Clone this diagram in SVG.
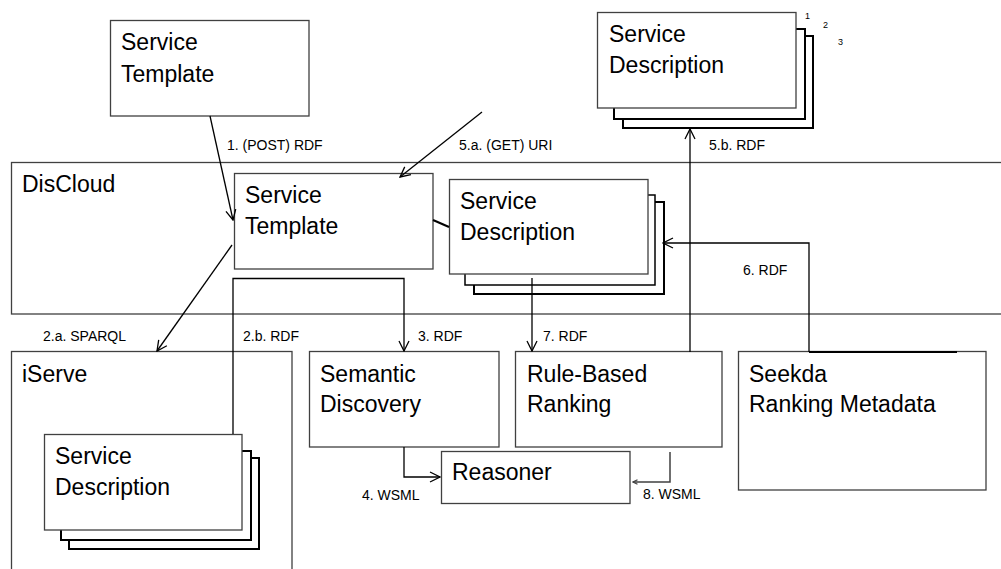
<svg xmlns="http://www.w3.org/2000/svg" width="1001" height="569" viewBox="0 0 1001 569">
<style>
.box{fill:#fff;stroke:#404040;stroke-width:1.3}
.sheet{fill:#fff;stroke:#000;stroke-width:2}
.cont{fill:none;stroke:#404040;stroke-width:1.3}
.big{font-family:"Liberation Sans",Arial,sans-serif;font-size:23px;fill:#000}
.lbl{font-family:"Liberation Sans",Arial,sans-serif;font-size:14px;fill:#000}
.num{font-family:"Liberation Sans",Arial,sans-serif;font-size:9px;fill:#000}
.c{fill:none;stroke:#000;stroke-width:1.3}
</style>
<defs>
<marker id="ah" viewBox="0 0 12 12" refX="11" refY="6" markerWidth="12" markerHeight="12" markerUnits="userSpaceOnUse" orient="auto">
<polyline points="1,1 11,6 1,11" fill="none" stroke="#000" stroke-width="1.3"/>
</marker>
<marker id="ahs" viewBox="0 0 8 8" refX="7" refY="4" markerWidth="6" markerHeight="6" markerUnits="userSpaceOnUse" orient="auto">
<polyline points="1,1 7,4 1,7" fill="none" stroke="#404040" stroke-width="1.5"/>
</marker>
</defs>
<rect width="1001" height="569" fill="#fff"/>
<g id="discloud">
<rect class="cont" x="11.5" y="162.5" width="1000" height="151.5"/>
<text class="big" x="22" y="192">DisCloud</text>
</g>
<g id="iserve">
<rect class="cont" x="11.5" y="351.5" width="280.5" height="230"/>
<text class="big" x="22" y="382">iServe</text>
</g>
<g id="top-template">
<rect class="box" x="110.5" y="20.5" width="198.5" height="95.5"/>
<text class="big" x="121" y="50">Service</text>
<text class="big" x="121" y="82">Template</text>
</g>
<g id="top-description">
<rect class="sheet" x="623" y="36" width="190" height="92"/>
<rect class="sheet" x="614" y="29" width="191" height="90"/>
<rect class="box" x="597.5" y="12.5" width="198.5" height="95.5"/>
<text class="big" x="609" y="42">Service</text>
<text class="big" x="609" y="73">Description</text>
<text class="num" x="805" y="19">1</text>
<text class="num" x="823" y="28">2</text>
<text class="num" x="838" y="45">3</text>
</g>
<g id="dc-template">
<rect class="box" x="234.5" y="173.5" width="198.5" height="95.5"/>
<text class="big" x="245" y="203">Service</text>
<text class="big" x="245" y="234">Template</text>
</g>
<g id="dc-description">
<rect class="sheet" x="474" y="202" width="190" height="92"/>
<rect class="sheet" x="465" y="195" width="190" height="90" style="stroke-width:1.5"/>
<rect class="box" x="449.5" y="179.5" width="198.5" height="94.5"/>
<text class="big" x="460" y="209">Service</text>
<text class="big" x="460" y="240">Description</text>
</g>
<g id="is-description">
<rect class="sheet" x="69" y="458" width="190" height="91"/>
<rect class="sheet" x="61" y="451" width="190" height="89"/>
<rect class="box" x="44.5" y="434.5" width="197.5" height="95.5"/>
<text class="big" x="55" y="464">Service</text>
<text class="big" x="55" y="495">Description</text>
</g>
<g id="semantic-discovery">
<rect class="box" x="309.5" y="351.5" width="189.5" height="95.5"/>
<text class="big" x="320" y="382">Semantic</text>
<text class="big" x="320" y="412">Discovery</text>
</g>
<g id="rule-based-ranking">
<rect class="box" x="515.5" y="351.5" width="206.5" height="95.5"/>
<text class="big" x="527" y="382">Rule-Based</text>
<text class="big" x="527" y="412">Ranking</text>
</g>
<g id="reasoner">
<rect class="box" x="441.5" y="451.5" width="188.5" height="52"/>
<text class="big" x="452" y="480">Reasoner</text>
</g>
<g id="seekda">
<rect class="box" x="738.5" y="351.5" width="247.5" height="138.5"/>
<text class="big" x="749" y="382">Seekda</text>
<text class="big" x="749" y="412">Ranking Metadata</text>
</g>
<g id="connectors">
<line class="c" x1="210" y1="116" x2="233" y2="220" marker-end="url(#ah)"/>
<line class="c" x1="482" y1="112" x2="400" y2="177" marker-end="url(#ah)"/>
<line class="c" x1="232" y1="245" x2="157" y2="351" marker-end="url(#ah)"/>
<polyline class="c" points="233,434 233,278.5 404,278.5 404,351" marker-end="url(#ah)"/>
<line x1="433" y1="220" x2="449" y2="227" stroke="#000" stroke-width="2"/>
<line class="c" x1="532" y1="278" x2="532" y2="351" marker-end="url(#ah)"/>
<line class="c" x1="690" y1="352" x2="690" y2="129" marker-end="url(#ah)"/>
<polyline class="c" points="809,352 809,243 663,243" marker-end="url(#ah)"/>
<line x1="809" y1="352" x2="957" y2="352" stroke="#000" stroke-width="2"/>
<polyline class="c" points="404,447 404,477 440,477" marker-end="url(#ah)"/>
<polyline points="670,452 670,482 633,482" fill="none" stroke="#404040" stroke-width="1.5" marker-end="url(#ahs)"/>
</g>
<g id="labels">
<text class="lbl" x="227" y="150">1. (POST) RDF</text>
<text class="lbl" x="459" y="150">5.a. (GET) URI</text>
<text class="lbl" x="709" y="150">5.b. RDF</text>
<text class="lbl" x="743" y="275">6. RDF</text>
<text class="lbl" x="43" y="341">2.a. SPARQL</text>
<text class="lbl" x="243" y="341">2.b. RDF</text>
<text class="lbl" x="418" y="341">3. RDF</text>
<text class="lbl" x="543" y="341">7. RDF</text>
<text class="lbl" x="362" y="500">4. WSML</text>
<text class="lbl" x="643" y="499">8. WSML</text>
</g>
</svg>
